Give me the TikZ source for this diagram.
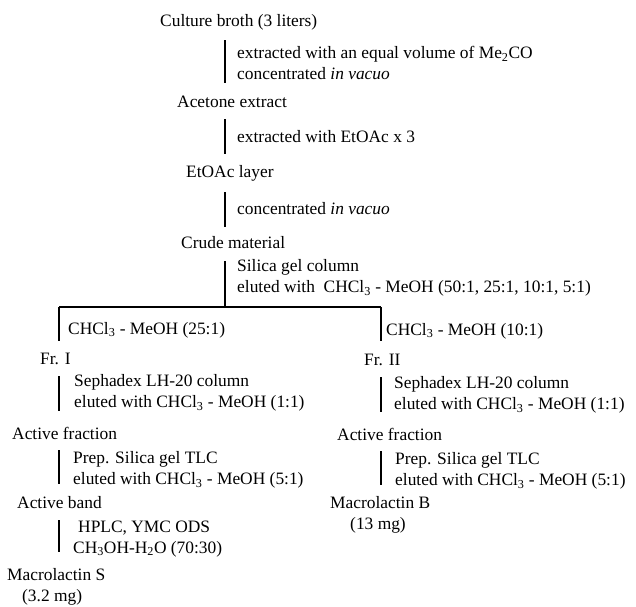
\documentclass[tikz,border=0pt]{standalone}
\usepackage{fontspec}
\setmainfont{Liberation Serif}
\begin{document}
\begin{tikzpicture}[x=1pt,y=-1pt,
  lbl/.style={anchor=west,inner sep=0pt,align=left,font=\fontsize{17.4}{20.5}\selectfont},
  conn/.style={line width=1.6pt},
  bar/.style={line width=2pt}]
\useasboundingbox (0,0) rectangle (636,606);
% top column
\node[lbl] (culture) at (160,22) {Culture broth (3 liters)};
\coordinate (c1a) at (225,40); \coordinate (c1b) at (225,83);
\draw[conn] (c1a) -- (c1b);
\node[lbl] (s1) at (237,63) {extracted with an equal volume of Me\textsubscript{2}CO\\concentrated \textit{in vacuo}};
\node[lbl] (acetone) at (177,102) {Acetone extract};
\coordinate (c2a) at (225,119); \coordinate (c2b) at (225,154);
\draw[conn] (c2a) -- (c2b);
\node[lbl] (s2) at (237,137) {extracted with EtOAc x 3};
\node[lbl] (etoac) at (186,173) {EtOAc layer};
\coordinate (c3a) at (225,192); \coordinate (c3b) at (225,227);
\draw[conn] (c3a) -- (c3b);
\node[lbl] (s3) at (237,209) {concentrated \textit{in vacuo}};
\node[lbl] (crude) at (181,243) {Crude material};
\coordinate (c4a) at (225,261); \coordinate (split) at (225,306);
\draw[conn] (c4a) -- (split);
\node[lbl] (s4) at (237,278) {Silica gel column\\eluted with\ \ CHCl\textsubscript{3} - MeOH (50:1, 25:1, 10:1, 5:1)};
\coordinate (hl) at (59,307); \coordinate (hr) at (381,307);
\draw[bar] (hl) -- (hr);
% left branch
\coordinate (l0b) at (59,341);
\draw[conn] (hl) -- (l0b);
\node[lbl] (sl0) at (68,330) {CHCl\textsubscript{3} - MeOH (25:1)};
\node[lbl] (fr1) at (40,359) {Fr. I};
\coordinate (l1a) at (59,376); \coordinate (l1b) at (59,411);
\draw[conn] (l1a) -- (l1b);
\node[lbl] (sl1) at (74,393) {Sephadex LH-20 column\\eluted with CHCl\textsubscript{3} - MeOH (1:1)};
\node[lbl] (act1) at (12,433) {Active fraction};
\coordinate (l2a) at (59,450); \coordinate (l2b) at (59,484);
\draw[conn] (l2a) -- (l2b);
\node[lbl] (sl2) at (73,470) {Prep. Silica gel TLC\\eluted with CHCl\textsubscript{3} - MeOH (5:1)};
\node[lbl] (band) at (17,503) {Active band};
\coordinate (l3a) at (59,520); \coordinate (l3b) at (59,552);
\draw[conn] (l3a) -- (l3b);
\node[lbl] (sl3) at (73,539) {\hspace*{5pt}HPLC, YMC ODS\\CH\textsubscript{3}OH-H\textsubscript{2}O (70:30)};
\node[lbl] (macS) at (7,587) {Macrolactin S\\\hspace*{15pt}(3.2 mg)};
% right branch
\coordinate (r0b) at (381,341);
\draw[conn] (hr) -- (r0b);
\node[lbl] (sr0) at (386,331) {CHCl\textsubscript{3} - MeOH (10:1)};
\node[lbl] (fr2) at (364,360) {Fr. II};
\coordinate (r1a) at (381,377); \coordinate (r1b) at (381,412);
\draw[conn] (r1a) -- (r1b);
\node[lbl] (sr1) at (394,395) {Sephadex LH-20 column\\eluted with CHCl\textsubscript{3} - MeOH (1:1)};
\node[lbl] (act2) at (337,434) {Active fraction};
\coordinate (r2a) at (381,451); \coordinate (r2b) at (381,485);
\draw[conn] (r2a) -- (r2b);
\node[lbl] (sr2) at (395,471) {Prep. Silica gel TLC\\eluted with CHCl\textsubscript{3} - MeOH (5:1)};
\node[lbl] (macB) at (330,515) {Macrolactin B\\\hspace*{20pt}(13 mg)};
\end{tikzpicture}
\end{document}
